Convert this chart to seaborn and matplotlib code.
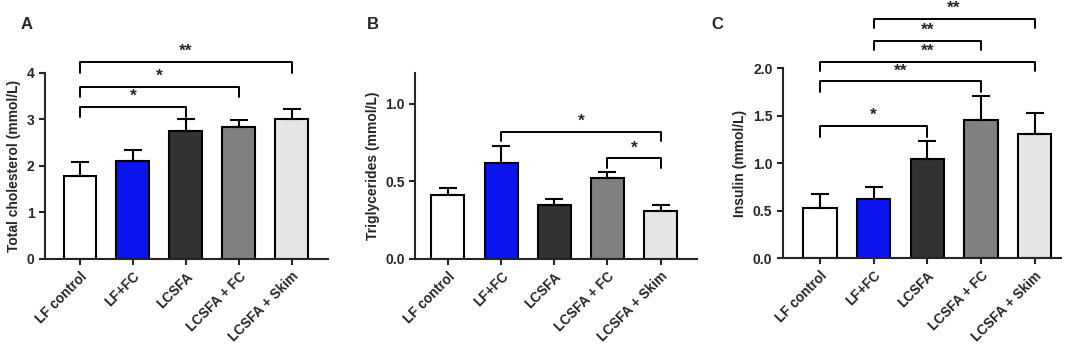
from matplotlib import pyplot as plt
import seaborn as sns
import pandas as pd
import numpy as np

sns.set_style("ticks")
plt.rcParams['font.family'] = ['Liberation Sans', 'DejaVu Sans']
plt.rcParams['font.weight'] = 'bold'

groups = ['LF control', 'LF+FC', 'LCSFA', 'LCSFA + FC', 'LCSFA + Skim']
colors = ['#ffffff', '#0a14ee', '#333333', '#808080', '#e6e6e6']

chol_mean = [1.78, 2.10, 2.75, 2.83, 3.00]
chol_sem = [0.30, 0.25, 0.25, 0.15, 0.22]
tg_mean = [0.41, 0.62, 0.35, 0.52, 0.31]
tg_sem = [0.05, 0.11, 0.04, 0.04, 0.04]
ins_mean = [0.53, 0.62, 1.04, 1.45, 1.31]
ins_sem = [0.15, 0.13, 0.19, 0.26, 0.22]

# brackets: (left group, right group, bar height, leg bottom, label)
chol_sig = [(0, 2, 3.27, 3.05, '*'), (0, 3, 3.70, 3.48, '*'), (0, 4, 4.24, 4.00, '**')]
tg_sig = [(1, 4, 0.82, 0.76, '*'), (3, 4, 0.65, 0.59, '*')]
ins_sig = [(0, 2, 1.39, 1.28, '*'), (0, 3, 1.86, 1.75, '**'), (0, 4, 2.07, 1.97, '**'),
           (1, 3, 2.29, 2.19, '**'), (1, 4, 2.52, 2.42, '**')]


def panel(ax, means, sems, sig, ylabel, ylim, yticks, ylabels, xlim, letter, letter_x):
    df = pd.DataFrame({'group': groups, 'value': means})
    sns.barplot(data=df, x='group', y='value', hue='group', palette=colors,
                order=groups, width=0.62, edgecolor='black', linewidth=1.5,
                saturation=1, legend=False, ax=ax, errorbar=None)
    x = np.arange(len(groups))
    ax.errorbar(x, means, yerr=[np.zeros(len(sems)), sems], fmt='none',
                ecolor='black', elinewidth=1.5, capsize=6.5, capthick=1.5, zorder=1)
    for a, b, top, bottom, label in sig:
        ax.plot([a, a, b, b], [bottom, top, top, bottom], color='black', lw=1.4,
                clip_on=False)
        ax.text((a + b) / 2, top + (ylim[1] - ylim[0]) * 0.015, label, ha='center',
                va='bottom', fontsize=12.5, fontweight='bold', clip_on=False)
    ax.set_ylim(*ylim)
    ax.set_xlim(*xlim)
    ax.set_yticks(yticks)
    ax.set_yticklabels(ylabels, fontsize=10, fontweight='bold')
    ax.set_xticks(x)
    ax.set_xticklabels(groups, rotation=45, ha='right', rotation_mode='anchor',
                       fontsize=9.8, fontweight='bold')
    ax.set_xlabel('')
    ax.set_ylabel(ylabel, fontsize=10, fontweight='bold')
    for s in ['left', 'bottom']:
        ax.spines[s].set_linewidth(1.5)
    sns.despine(ax=ax)
    ax.tick_params(width=1.5, length=4)
    ax.figure.text(letter_x, 0.915, letter, fontsize=12,
                   fontweight='bold', ha='center')


fig = plt.figure(figsize=(10.71, 3.46), dpi=100)
axA = fig.add_axes([0.042, 0.2515, 0.264, 0.5376])
axB = fig.add_axes([0.3875, 0.2515, 0.263, 0.5376])
axC = fig.add_axes([0.731, 0.254, 0.26, 0.549])

panel(axA, chol_mean, chol_sem, chol_sig, 'Total cholesterol (mmol/L)', (0, 4),
      [0, 1, 2, 3, 4], ['0', '1', '2', '3', '4'], (-0.66, 4.68), 'A', 27 / 1071)
panel(axB, tg_mean, tg_sem, tg_sig, 'Triglycerides (mmol/L)', (0, 1.2),
      [0, 0.5, 1.0], ['0.0', '0.5', '1.0'], (-0.62, 4.68), 'B', 373 / 1071)
panel(axC, ins_mean, ins_sem, ins_sig, 'Insulin (mmol/L)', (0, 2.0),
      [0, 0.5, 1.0, 1.5, 2.0], ['0.0', '0.5', '1.0', '1.5', '2.0'], (-0.69, 4.5),
      'C', 717 / 1071)

fig.savefig('out.png', dpi=100)
